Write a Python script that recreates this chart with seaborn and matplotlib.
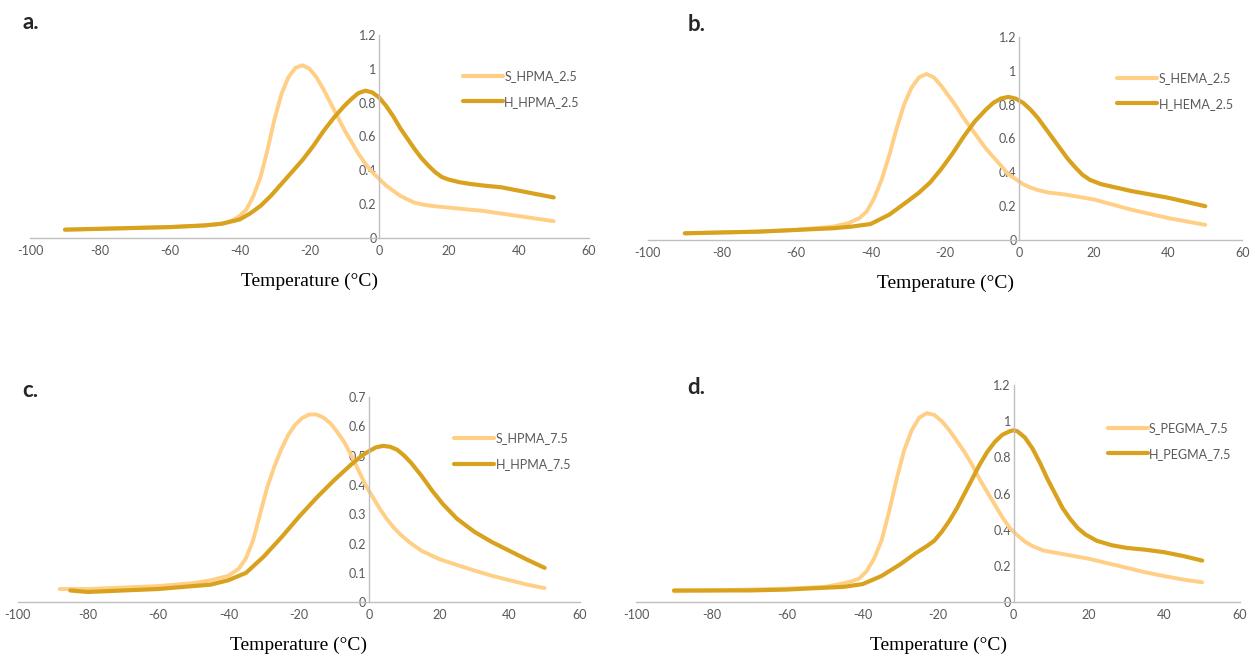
import numpy as np
import pandas as pd
import matplotlib
matplotlib.use('Agg')
import matplotlib.pyplot as plt
import seaborn as sns
from matplotlib.ticker import FuncFormatter, MultipleLocator

# ---- data (temperature in °C, normalised heat flow) ----
a_s_temp = [-90, -80, -70, -60, -50, -45, -42, -40, -38, -36, -34, -32, -30, -28, -26, -24, -22, -20, -18, -16, -14, -12, -10, -8, -6, -4, -2, 0, 2, 4, 6, 8, 10, 12, 15, 20, 25, 30, 35, 40, 45, 50]
a_s_val = [0.05, 0.055, 0.06, 0.065, 0.075, 0.085, 0.105, 0.13, 0.17, 0.25, 0.36, 0.52, 0.70, 0.85, 0.95, 1.005, 1.02, 1.0, 0.95, 0.88, 0.80, 0.72, 0.64, 0.57, 0.50, 0.44, 0.39, 0.35, 0.31, 0.28, 0.25, 0.23, 0.21, 0.2, 0.19, 0.18, 0.17, 0.16, 0.145, 0.13, 0.115, 0.1]
a_h_temp = [-90, -80, -70, -60, -50, -45, -40, -37, -34, -31, -28, -25, -22, -19, -16, -13, -10, -8, -6, -4, -2, 0, 2, 4, 6, 8, 10, 12, 14, 16, 18, 20, 23, 26, 30, 35, 40, 45, 50]
a_h_val = [0.05, 0.055, 0.06, 0.065, 0.075, 0.085, 0.11, 0.145, 0.19, 0.25, 0.32, 0.39, 0.46, 0.54, 0.63, 0.71, 0.78, 0.82, 0.855, 0.87, 0.86, 0.83, 0.78, 0.72, 0.65, 0.59, 0.53, 0.475, 0.43, 0.39, 0.36, 0.345, 0.33, 0.32, 0.31, 0.3, 0.28, 0.26, 0.24]

b_s_temp = [-90, -80, -70, -60, -50, -46, -43, -41, -39, -37, -35, -33, -31, -29, -27, -25, -23, -21, -19, -17, -15, -13, -11, -9, -7, -5, -3, -1, 1, 3, 5, 8, 12, 16, 20, 25, 30, 35, 40, 45, 50]
b_s_val = [0.04, 0.045, 0.05, 0.06, 0.08, 0.1, 0.13, 0.17, 0.25, 0.36, 0.5, 0.66, 0.8, 0.9, 0.96, 0.98, 0.96, 0.91, 0.85, 0.79, 0.72, 0.66, 0.6, 0.54, 0.49, 0.44, 0.39, 0.36, 0.33, 0.31, 0.295, 0.28, 0.27, 0.255, 0.24, 0.21, 0.18, 0.155, 0.13, 0.11, 0.09]
b_h_temp = [-90, -80, -70, -60, -50, -45, -40, -35, -30, -27, -24, -21, -18, -15, -12, -9, -7, -5, -3, -1, 1, 3, 5, 7, 9, 11, 13, 15, 17, 19, 22, 26, 30, 35, 40, 45, 50]
b_h_val = [0.04, 0.045, 0.05, 0.06, 0.07, 0.08, 0.095, 0.15, 0.23, 0.28, 0.34, 0.42, 0.51, 0.61, 0.70, 0.77, 0.81, 0.835, 0.845, 0.835, 0.81, 0.77, 0.72, 0.66, 0.6, 0.54, 0.48, 0.43, 0.385, 0.355, 0.33, 0.31, 0.29, 0.27, 0.25, 0.225, 0.2]

c_s_temp = [-88, -80, -70, -60, -50, -45, -40, -37, -35, -33, -31, -29, -27, -25, -23, -21, -19, -17, -15, -13, -11, -9, -7, -5, -3, -1, 1, 3, 5, 7, 9, 12, 15, 20, 25, 30, 35, 40, 45, 50]
c_s_val = [0.045, 0.045, 0.05, 0.055, 0.065, 0.075, 0.09, 0.115, 0.15, 0.21, 0.3, 0.39, 0.46, 0.52, 0.57, 0.605, 0.628, 0.64, 0.64, 0.63, 0.61, 0.58, 0.545, 0.5, 0.45, 0.4, 0.36, 0.32, 0.285, 0.255, 0.23, 0.2, 0.175, 0.147, 0.127, 0.108, 0.09, 0.075, 0.06, 0.048]
c_h_temp = [-85, -80, -70, -60, -50, -45, -40, -35, -30, -25, -20, -15, -10, -5, -2, 0, 2, 4, 6, 8, 10, 12, 15, 18, 21, 25, 30, 35, 40, 45, 50]
c_h_val = [0.04, 0.035, 0.04, 0.045, 0.055, 0.06, 0.075, 0.1, 0.155, 0.22, 0.29, 0.355, 0.415, 0.47, 0.5, 0.515, 0.528, 0.533, 0.53, 0.52, 0.5, 0.475, 0.43, 0.38, 0.335, 0.285, 0.24, 0.205, 0.175, 0.145, 0.117]

d_s_temp = [-90, -80, -70, -60, -50, -46, -43, -41, -39, -37, -35, -33, -31, -29, -27, -25, -23, -21, -19, -17, -15, -13, -11, -9, -7, -5, -3, -1, 1, 3, 5, 8, 12, 16, 20, 25, 30, 35, 40, 45, 50]
d_s_val = [0.06, 0.065, 0.07, 0.075, 0.085, 0.1, 0.115, 0.13, 0.17, 0.24, 0.34, 0.5, 0.68, 0.84, 0.95, 1.02, 1.045, 1.035, 1.0, 0.95, 0.89, 0.83, 0.76, 0.68, 0.61, 0.54, 0.47, 0.41, 0.37, 0.335, 0.31, 0.285, 0.27, 0.255, 0.24, 0.215, 0.19, 0.165, 0.144, 0.125, 0.11]
d_h_temp = [-90, -80, -70, -60, -50, -45, -40, -35, -30, -26, -23, -21, -19, -17, -15, -13, -11, -9, -7, -5, -3, -1, 0, 1, 3, 5, 7, 9, 11, 13, 15, 17, 19, 22, 26, 30, 35, 40, 45, 50]
d_h_val = [0.065, 0.065, 0.065, 0.07, 0.08, 0.085, 0.1, 0.145, 0.21, 0.27, 0.31, 0.34, 0.39, 0.45, 0.52, 0.6, 0.68, 0.76, 0.83, 0.885, 0.925, 0.945, 0.95, 0.945, 0.91, 0.85, 0.77, 0.68, 0.6, 0.52, 0.46, 0.41, 0.375, 0.34, 0.315, 0.3, 0.29, 0.276, 0.255, 0.23]

panel_labels = ['a.', 'b.', 'c.', 'd.']
s_names = ['S_HPMA_2.5', 'S_HEMA_2.5', 'S_HPMA_7.5', 'S_PEGMA_7.5']
h_names = ['H_HPMA_2.5', 'H_HEMA_2.5', 'H_HPMA_7.5', 'H_PEGMA_7.5']
y_max = [1.2, 1.2, 0.7, 1.2]
y_step = [0.2, 0.2, 0.1, 0.2]

s_series = [(a_s_temp, a_s_val), (b_s_temp, b_s_val), (c_s_temp, c_s_val), (d_s_temp, d_s_val)]
h_series = [(a_h_temp, a_h_val), (b_h_temp, b_h_val), (c_h_temp, c_h_val), (d_h_temp, d_h_val)]

light = '#FFCF86'
dark = '#D9A21E'
grey_axis = '#BFBFBF'
grey_text = '#595959'

sns.set_style('white')
plt.rcParams['font.family'] = ['Lato', 'DejaVu Sans']
plt.rcParams['axes.unicode_minus'] = False

fig = plt.figure(figsize=(12.55, 6.56), dpi=100)

# axes boxes [left, bottom, width, height] in figure fractions
boxes = [[0.024, 0.637, 0.445, 0.310],
         [0.516, 0.634, 0.474, 0.310],
         [0.014, 0.082, 0.448, 0.313],
         [0.507, 0.082, 0.481, 0.331]]
label_pos = [(0.018, 0.965), (0.548, 0.962), (0.018, 0.405), (0.548, 0.410)]

for i in range(4):
    ax = fig.add_axes(boxes[i])
    sx, sy = s_series[i]
    hx, hy = h_series[i]
    sns.lineplot(x=sx, y=sy, ax=ax, color=light, linewidth=2.8, label=s_names[i])
    sns.lineplot(x=hx, y=hy, ax=ax, color=dark, linewidth=3.0, label=h_names[i])
    for ln in ax.lines:
        ln.set_solid_joinstyle('round')
        ln.set_solid_capstyle('round')

    ax.set_xlim(-100, 60)
    ax.set_ylim(0, y_max[i])
    ax.xaxis.set_major_locator(MultipleLocator(20))
    ax.yaxis.set_major_locator(MultipleLocator(y_step[i]))
    ax.yaxis.set_major_formatter(FuncFormatter(lambda v, p: '{:g}'.format(round(v, 2))))

    for side in ['top', 'right']:
        ax.spines[side].set_visible(False)
    ax.spines['left'].set_position(('data', 0))
    ax.spines['left'].set_color(grey_axis)
    ax.spines['bottom'].set_color(grey_axis)
    ax.spines['left'].set_linewidth(1.0)
    ax.spines['bottom'].set_linewidth(1.0)
    ax.tick_params(axis='both', length=0, labelsize=9, labelcolor=grey_text, pad=5)
    ax.tick_params(axis='y', pad=2)

    ax.set_xlabel('Temperature (°C)', family=['Liberation Serif', 'DejaVu Serif'],
                  fontsize=14, color='black', labelpad=11)
    ax.set_ylabel('')

    leg = ax.legend(loc='upper right', bbox_to_anchor=(1.0, 0.87), frameon=False,
                    fontsize=9, handlelength=3.2, handletextpad=0.1,
                    labelspacing=1.1, borderaxespad=0.3)
    for t in leg.get_texts():
        t.set_color(grey_text)
    for ln in leg.get_lines():
        ln.set_linewidth(3)

    fig.text(label_pos[i][0], label_pos[i][1], panel_labels[i], fontsize=16,
             fontweight='bold', ha='left', va='center')

fig.savefig('out.png', dpi=100, facecolor='white')
